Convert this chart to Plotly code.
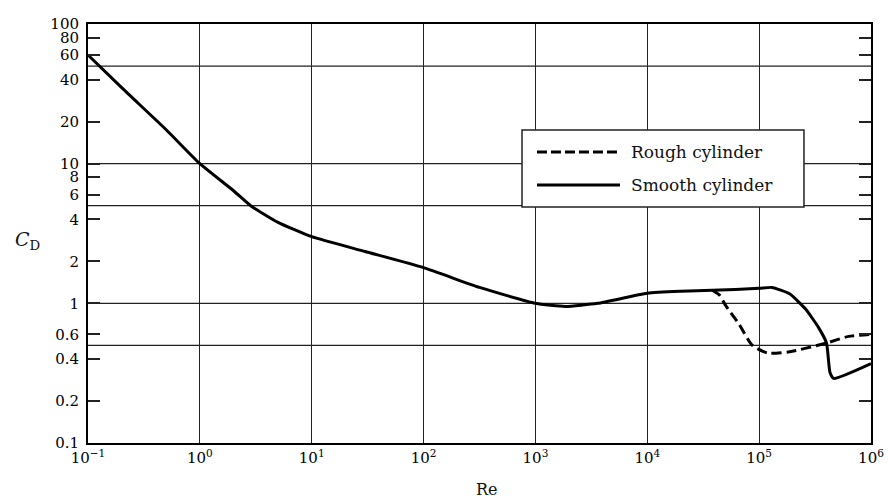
import plotly.graph_objects as go

# ---- data ----
smooth_re = [0.1, 0.2, 0.5, 1, 2, 2.85, 5, 10, 30, 100, 316, 1000, 1850, 3600,
             10000, 20000, 38000, 100000, 130000, 187000, 260000, 340000, 400000,
             430000, 465000, 1000000]
smooth_cd = [60, 35, 17.5, 10, 6.4, 5.0, 3.8, 3.0, 2.35, 1.8, 1.3, 1.0, 0.95, 1.0,
             1.18, 1.22, 1.24, 1.28, 1.3, 1.17, 0.91, 0.67, 0.52,
             0.32, 0.29, 0.37]

rough_re = [38000, 44000, 50000, 66000, 87000, 120000, 187000, 400000,
            630000, 1000000]
rough_cd = [1.24, 1.15, 0.97, 0.71, 0.5, 0.44, 0.45, 0.52, 0.58, 0.6]

x_tickvals = [0.1, 1, 10, 100, 1e3, 1e4, 1e5, 1e6]
x_ticktext = ["10<sup>−1</sup>", "10<sup>0</sup>", "10<sup>1</sup>", "10<sup>2</sup>",
              "10<sup>3</sup>", "10<sup>4</sup>", "10<sup>5</sup>", "10<sup>6</sup>"]
y_tickvals = [0.1, 0.2, 0.4, 0.6, 1, 2, 4, 6, 8, 10, 20, 40, 60, 80, 100]
y_ticktext = ["0.1", "0.2", "0.4", "0.6", "1", "2", "4", "6", "8", "10",
              "20", "40", "60", "80", "100"]
h_grid = [0.5, 1, 5, 10, 50]

legend_labels = ["Rough cylinder", "Smooth cylinder"]

FONT = "DejaVu Serif"

fig = go.Figure()
fig.add_trace(go.Scatter(x=smooth_re, y=smooth_cd, mode="lines",
                         name=legend_labels[1], showlegend=False,
                         line=dict(color="black", width=3, shape="spline", smoothing=0.5)))
fig.add_trace(go.Scatter(x=rough_re, y=rough_cd, mode="lines",
                         name=legend_labels[0], showlegend=False,
                         line=dict(color="black", width=3, dash="10px,5px",
                                   shape="spline", smoothing=0.6)))

shapes = []
for gy in h_grid:
    shapes.append(dict(type="line", xref="paper", yref="y", x0=0, x1=1, y0=gy, y1=gy,
                       line=dict(color="#222", width=1.3), layer="below"))

# legend box (drawn manually to match the reference proportions)
shapes.append(dict(type="rect", xref="paper", yref="paper", x0=0.5543, x1=0.9144,
                   y0=0.5632, y1=0.747, fillcolor="white",
                   line=dict(color="#222", width=1.5), layer="above"))
shapes.append(dict(type="line", xref="paper", yref="paper", x0=0.5734, x1=0.6794,
                   y0=0.6945, y1=0.6945, line=dict(color="black", width=3, dash="10px,4px"),
                   layer="above"))
shapes.append(dict(type="line", xref="paper", yref="paper", x0=0.5734, x1=0.6794,
                   y0=0.6158, y1=0.6158, line=dict(color="black", width=3), layer="above"))

annotations = [
    dict(text=legend_labels[0], xref="paper", yref="paper", x=0.691, y=0.6945,
         xanchor="left", yanchor="middle", showarrow=False,
         font=dict(family=FONT, size=17, color="#111")),
    dict(text=legend_labels[1], xref="paper", yref="paper", x=0.691, y=0.6158,
         xanchor="left", yanchor="middle", showarrow=False,
         font=dict(family=FONT, size=17, color="#111")),
    dict(text="<i>C</i><sub>D</sub>", xref="paper", yref="paper", x=-0.077, y=0.484,
         xanchor="center", yanchor="middle", showarrow=False,
         font=dict(family=FONT, size=19, color="#111")),
    dict(text="Re", xref="paper", yref="paper", x=0.51, y=-0.112,
         xanchor="center", yanchor="middle", showarrow=False,
         font=dict(family=FONT, size=16, color="#111")),
]

fig.update_layout(
    width=888, height=501,
    margin=dict(l=88, r=17, t=24, b=58, autoexpand=False),
    paper_bgcolor="white", plot_bgcolor="white",
    font=dict(family=FONT, size=15, color="#000"),
    shapes=shapes, annotations=annotations,
    showlegend=False,
)
fig.update_xaxes(type="log", range=[-1, 6], tickvals=x_tickvals, ticktext=x_ticktext,
                 showgrid=True, gridcolor="#222", gridwidth=1.3, automargin=False,
                 showline=True, linecolor="black", linewidth=2, mirror=True,
                 ticks="", zeroline=False, tickfont=dict(family=FONT, size=15, color="#000"))
fig.update_yaxes(type="log", range=[-1, 2], tickvals=y_tickvals, ticktext=y_ticktext,
                 showgrid=False, automargin=False,
                 showline=True, linecolor="black", linewidth=2, mirror="ticks",
                 ticks="inside", ticklen=12, tickwidth=2, tickcolor="#222",
                 ticklabelstandoff=4,
                 zeroline=False, tickfont=dict(family=FONT, size=15, color="#000"))

# remove the default 8px page margin so the 888x501 figure fills the window exactly
fig.write_html("out.html",
               config={"displayModeBar": False},
               post_script="document.body.style.margin='0';document.body.style.overflow='hidden';")
